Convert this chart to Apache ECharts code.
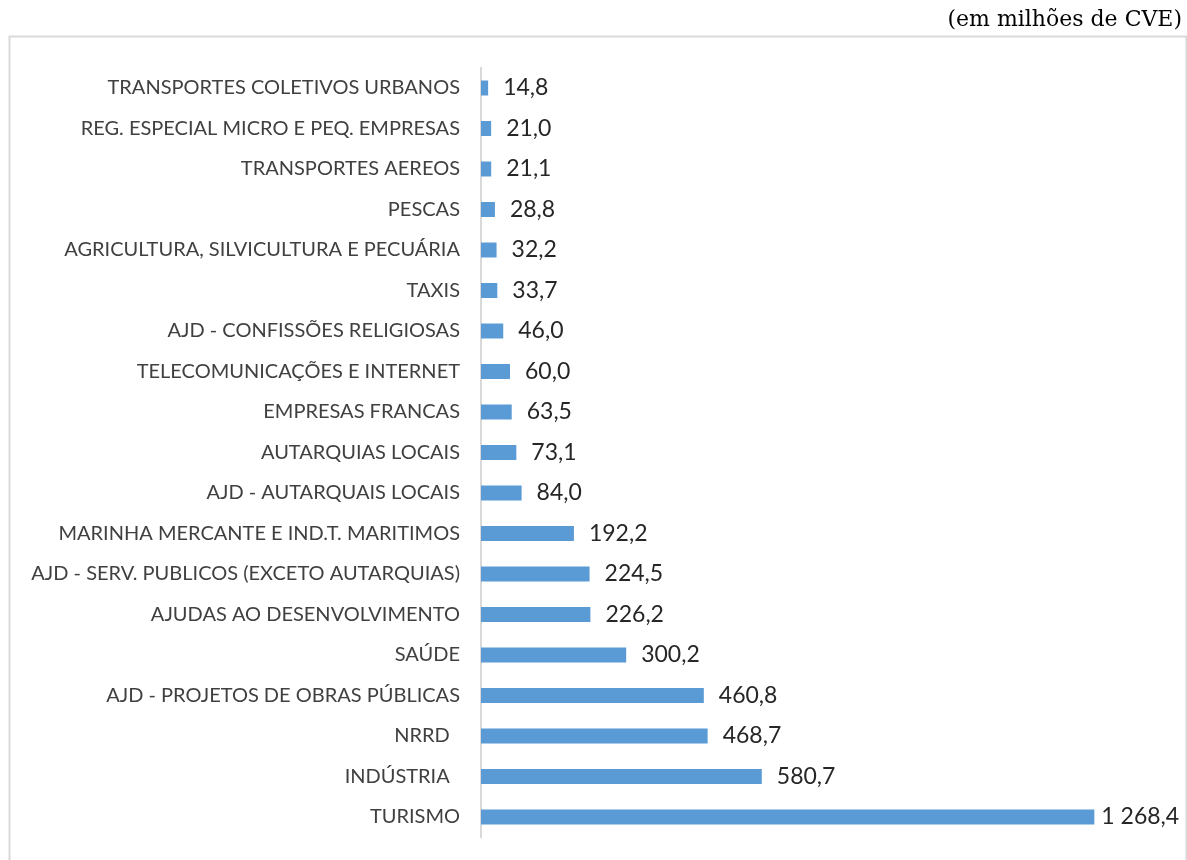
<!DOCTYPE html>
<html>
<head>
<meta charset="utf-8">
<script src="https://cdn.jsdelivr.net/npm/echarts@6/dist/echarts.min.js"></script>
<style>html,body{margin:0;padding:0;background:#fff;}#chart{width:1187px;height:860px;}</style>
</head>
<body>
<div id="chart"></div>
<script>
const categories = [
  "TRANSPORTES COLETIVOS URBANOS",
  "REG. ESPECIAL MICRO E PEQ. EMPRESAS",
  "TRANSPORTES AEREOS",
  "PESCAS",
  "AGRICULTURA, SILVICULTURA E PECUÁRIA",
  "TAXIS",
  "AJD - CONFISSÕES RELIGIOSAS",
  "TELECOMUNICAÇÕES E INTERNET",
  "EMPRESAS FRANCAS",
  "AUTARQUIAS LOCAIS",
  "AJD - AUTARQUAIS LOCAIS",
  "MARINHA MERCANTE E IND.T. MARITIMOS",
  "AJD - SERV. PUBLICOS (EXCETO AUTARQUIAS)",
  "AJUDAS AO DESENVOLVIMENTO",
  "SAÚDE",
  "AJD - PROJETOS DE OBRAS PÚBLICAS",
  "NRRD  ",
  "INDÚSTRIA  ",
  "TURISMO"
];
const values = [14.8, 21.0, 21.1, 28.8, 32.2, 33.7, 46.0, 60.0, 63.5, 73.1, 84.0, 192.2, 224.5, 226.2, 300.2, 460.8, 468.7, 580.7, 1268.4];
const unitNote = "(em milhões de CVE)";

function fmt(v) {
  const parts = v.toFixed(1).split('.');
  parts[0] = parts[0].replace(/\B(?=(\d{3})+(?!\d))/g, ' ');
  return parts.join(',');
}
const maxVal = Math.max.apply(null, values);
const seriesData = values.map(v => v === maxVal ? {value: v, label: {distance: 7}} : v);

const chart = echarts.init(document.getElementById('chart'), null, {renderer: 'canvas'});
chart.setOption({
  animation: false,
  backgroundColor: '#ffffff',
  graphic: [
    {type: 'rect', left: 7, top: 34, shape: {width: 1177, height: 840}, style: {fill: 'none', stroke: '#D9D9D9', lineWidth: 2}, silent: true},
    {type: 'text', right: 5, top: 9, style: {text: unitNote, font: '22px "DejaVu Serif", "Liberation Serif", serif', fill: '#000'}}
  ],
  grid: {left: 481, top: 67.75, height: 769.5, right: 29},
  xAxis: {type: 'value', min: 0, max: 1400, show: false, splitLine: {show: false}},
  yAxis: {
    type: 'category', data: categories, inverse: true,
    axisLine: {show: true, lineStyle: {color: '#D9D9D9', width: 2}},
    axisTick: {show: false},
    axisLabel: {margin: 21, fontSize: 20, color: '#404040', fontFamily: 'Lato, sans-serif'}
  },
  series: [{
    type: 'bar', data: seriesData, barWidth: 15,
    itemStyle: {color: '#5B9BD5'},
    label: {show: true, position: 'right', distance: 15, fontSize: 23, color: '#262626',
      fontFamily: 'Lato, sans-serif', padding: [3, 0, 0, 0],
      formatter: p => fmt(p.value)}
  }]
});
</script>
</body>
</html>
